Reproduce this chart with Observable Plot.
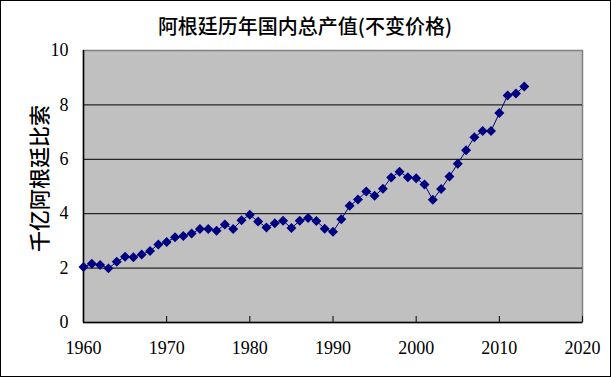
<!DOCTYPE html>
<html><head><meta charset="utf-8">
<script src="https://cdn.jsdelivr.net/npm/d3@7"></script>
<script src="https://cdn.jsdelivr.net/npm/@observablehq/plot@0.6"></script>
<style>
body{margin:0;background:#fff}
#chart svg{display:block;outline:1px solid #000;outline-offset:-1px}
#chart svg g[aria-label$="tick label"], #chart svg g[aria-label$="tick label"] text{font-family:"Liberation Serif","Times New Roman","DejaVu Serif",serif !important;font-size:18px !important}
</style>
</head><body><div id="chart"></div><script>
const title = "阿根廷历年国内总产值(不变价格)";
const yLabel = "千亿阿根廷比索";
const years = [1960,1961,1962,1963,1964,1965,1966,1967,1968,1969,
  1970,1971,1972,1973,1974,1975,1976,1977,1978,1979,
  1980,1981,1982,1983,1984,1985,1986,1987,1988,1989,
  1990,1991,1992,1993,1994,1995,1996,1997,1998,1999,
  2000,2001,2002,2003,2004,2005,2006,2007,2008,2009,
  2010,2011,2012,2013];
const gdp = [2.04,2.16,2.11,1.99,2.23,2.42,2.40,2.50,2.63,2.87,
  2.96,3.13,3.18,3.27,3.44,3.44,3.37,3.60,3.44,3.76,
  3.96,3.71,3.49,3.65,3.74,3.47,3.74,3.84,3.73,3.45,
  3.34,3.80,4.29,4.52,4.82,4.66,4.92,5.33,5.54,5.34,
  5.30,5.07,4.51,4.91,5.37,5.84,6.33,6.81,7.04,7.04,
  7.70,8.35,8.42,8.68];
const xTicks = [1960,1970,1980,1990,2000,2010,2020];
const yTicks = [0,2,4,6,8,10];
const yGrid = [2,4,6,8];

const data = years.map((y,i)=>({year:y, value:gdp[i]}));
const numFont = "Liberation Serif";
const cjkFont = "Noto Sans CJK SC";

const chart = Plot.plot({
  width:611, height:377,
  marginLeft:83, marginRight:29, marginTop:50, marginBottom:55,
  style:{background:"#fff", fontSize:"18px", color:"#000"},
  x:{domain:[1960,2020], label:null},
  y:{domain:[0,10], label:null},
  marks:[
    Plot.frame({fill:"#C0C0C0", stroke:"#808080", strokeWidth:1.5}),
    Plot.gridY(yGrid, {stroke:"#000", strokeOpacity:1}),
    Plot.ruleX([1960], {stroke:"#000", strokeWidth:1.5}),
    Plot.ruleY([0], {stroke:"#000", strokeWidth:1.5}),
    Plot.axisX(xTicks, {tickSize:-6, tickFormat:()=>"", stroke:"#000"}),
    Plot.axisX(xTicks, {tickSize:0, tickPadding:19, tickFormat:d=>String(d), fill:"#000", fontFamily:numFont, fontSize:18}),
    Plot.axisY(yTicks, {tickSize:0, tickPadding:15, fill:"#000", fontFamily:numFont, fontSize:18}),
    Plot.line(data, {x:"year", y:"value", stroke:"#000080", strokeWidth:1}),
    Plot.dot(data, {x:"year", y:"value", symbol:"diamond2", r:4.5, fill:"#000080", stroke:"none"}),
    Plot.text([title], {text:d=>d, frameAnchor:"top", lineAnchor:"middle", dx:-28, dy:-23, fontSize:20, fontWeight:500, fontFamily:cjkFont, fill:"#000"}),
    Plot.text([yLabel], {text:d=>d, frameAnchor:"left", textAnchor:"middle", lineAnchor:"middle", dx:-43, dy:-8, rotate:-90, fontSize:21, fontWeight:500, fontFamily:cjkFont, fill:"#000"})
  ]
});
document.getElementById("chart").append(chart);
</script></body></html>
